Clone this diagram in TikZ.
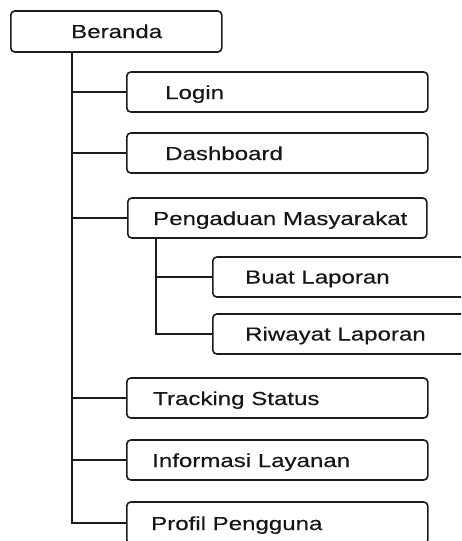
\documentclass[tikz,border=0pt]{standalone}
\usepackage{fontspec}
\setmainfont{Liberation Sans}[FakeStretch=1.28,FakeBold=0.3]
\usepackage{xcolor}
\usepackage{tikz}
\definecolor{figline}{RGB}{28,28,28}
\definecolor{figtext}{RGB}{22,22,22}
\tikzset{
  bx/.style  ={draw=figline, line width=1.6pt, rounded corners=4pt, minimum height=40pt, anchor=west, inner sep=0pt},
  ln/.style  ={draw=figline, line width=1.6pt},
  lab/.style ={font=\fontsize{18.8}{21}\selectfont, text=figtext, anchor=base west, inner sep=0pt},
}

\begin{document}
\begin{tikzpicture}[x=1pt,y=-1pt]
  \useasboundingbox (0,0) rectangle (461,541);
  \clip (0,0) rectangle (461,541);
  \node[bx, minimum width=211pt, minimum height=41pt] (beranda) at (10,31.5) {};
  \node[bx, minimum width=301pt] (login) at (126,92) {};
  \node[bx, minimum width=301pt] (dash) at (126,153) {};
  \node[bx, minimum width=299pt] (pengaduan) at (127,218) {};
  \node[bx, minimum width=260pt] (buat) at (212,277) {};
  \node[bx, minimum width=260pt] (riwayat) at (212,334) {};
  \node[bx, minimum width=301pt] (tracking) at (126,398) {};
  \node[bx, minimum width=301pt] (info) at (126,460) {};
  \node[bx, minimum width=301pt, minimum height=42pt] (profil) at (126,523) {};
  \node[lab] (tberanda) at ([xshift=61pt,yshift=-6.5pt]beranda.west) {Beranda};
  \node[lab] (tlogin) at ([xshift=39pt,yshift=-7pt]login.west) {Login};
  \node[lab] (tdash) at ([xshift=39pt,yshift=-7pt]dash.west) {Dashboard};
  \node[lab] (tpengaduan) at ([xshift=26pt,yshift=-7pt]pengaduan.west) {Pengaduan Masyarakat};
  \node[lab] (tbuat) at ([xshift=33pt,yshift=-6.5pt]buat.west) {Buat Laporan};
  \node[lab] (triwayat) at ([xshift=33pt,yshift=-6.5pt]riwayat.west) {Riwayat Laporan};
  \node[lab] (ttracking) at ([xshift=27pt,yshift=-7pt]tracking.west) {Tracking Status};
  \node[lab] (tinfo) at ([xshift=26pt,yshift=-7pt]info.west) {Informasi Layanan};
  \node[lab] (tprofil) at ([xshift=25pt,yshift=-7pt]profil.west) {Profil Pengguna};
  \coordinate (trunk) at (72,52);
  \coordinate (subtrunk) at (156,238);
  \draw[ln] (trunk) |- (login.west);
  \draw[ln] (trunk) |- (dash.west);
  \draw[ln] (trunk) |- (pengaduan.west);
  \draw[ln] (trunk) |- (tracking.west);
  \draw[ln] (trunk) |- (info.west);
  \draw[ln] (trunk) |- (profil.west);
  \draw[ln] (subtrunk) |- (buat.west);
  \draw[ln] (subtrunk) |- (riwayat.west);
\end{tikzpicture}
\end{document}
